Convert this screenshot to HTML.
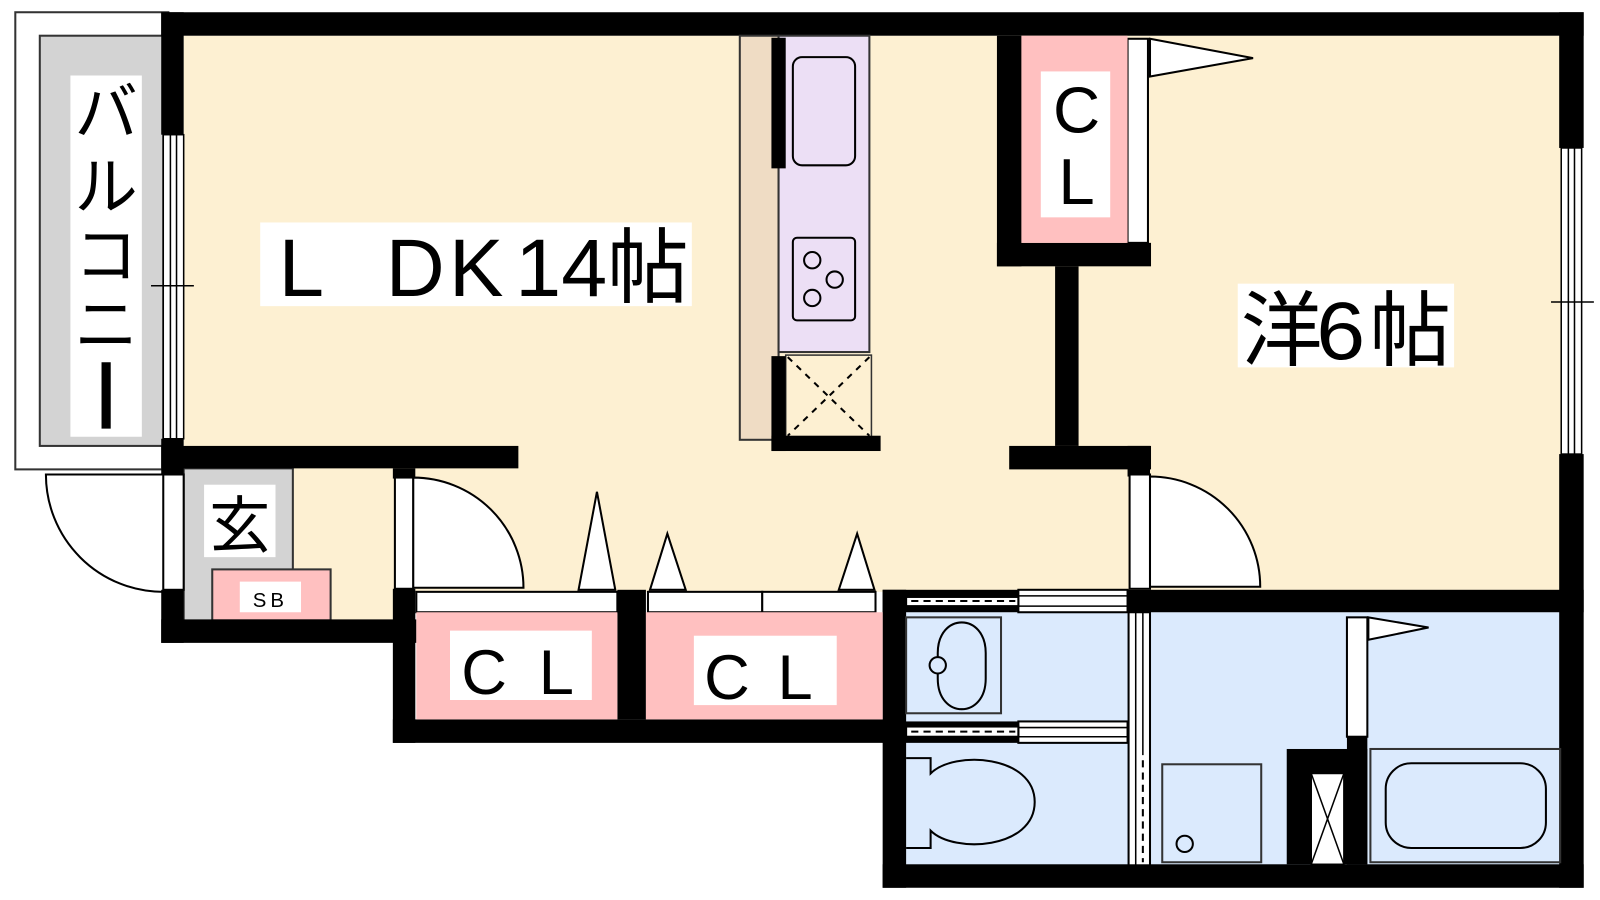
<!DOCTYPE html>
<html><head><meta charset="utf-8"><style>html,body{margin:0;padding:0;background:#fff}svg{display:block}</style></head>
<body>
<svg width="1600" height="900" viewBox="0 0 1568 882" preserveAspectRatio="none" xmlns="http://www.w3.org/2000/svg" font-family="Liberation Sans, Noto Sans CJK JP, sans-serif">
<!-- floors -->
<rect x="180" y="35" width="1350" height="545" fill="#fdf0d2"/>
<rect x="287" y="459" width="100" height="150" fill="#fdf0d2"/>
<rect x="888" y="600" width="642" height="248" fill="#dbeafd"/>
<!-- balcony -->
<rect x="15" y="12" width="150" height="448" fill="#fff" stroke="#333" stroke-width="2"/>
<rect x="39" y="35" width="121" height="402" fill="#d3d3d3" stroke="#333" stroke-width="2"/>
<rect x="69" y="74" width="70" height="354" fill="#fff"/>
<g font-size="62" text-anchor="middle" fill="#000">
<text x="104" y="132">バ</text><text x="104" y="205">ル</text><text x="104" y="272">コ</text><text x="104" y="340">ニ</text>
<line x1="104" y1="355" x2="104" y2="420" stroke="#000" stroke-width="9"/>
</g>
<!-- entrance -->
<rect x="180" y="459" width="107" height="150" fill="#d3d3d3" stroke="#333" stroke-width="2"/>
<rect x="200" y="475" width="70" height="71" fill="#fff"/>
<text x="235" y="536" font-size="60" text-anchor="middle">玄</text>
<rect x="208" y="558" width="116" height="50" fill="#ffc0c0" stroke="#333" stroke-width="2"/>
<rect x="235" y="570" width="60" height="30" fill="#fff"/>
<text x="265" y="595" font-size="20" text-anchor="middle" letter-spacing="4">SB</text>
<!-- entrance door -->
<path d="M160 465 H45 A115 115 0 0 0 160 580" fill="#fff" stroke="#000" stroke-width="2"/>
<!-- walls -->
<g fill="#000">
<rect x="158" y="12" width="1394" height="23"/>
<rect x="158" y="12" width="22" height="120"/>
<rect x="158" y="430" width="22" height="35"/>
<rect x="158" y="578" width="22" height="52"/>
<rect x="158" y="437" width="350" height="22"/>
<rect x="158" y="607" width="250" height="23"/>
<rect x="385" y="459" width="22" height="10"/>
<rect x="385" y="577" width="22" height="151"/>
<rect x="385" y="705" width="502" height="23"/>
<rect x="605" y="578" width="28" height="127"/>
<rect x="865" y="578" width="23" height="292"/>
<rect x="865" y="847" width="687" height="23"/>
<rect x="1528" y="12" width="24" height="133"/>
<rect x="1528" y="445" width="24" height="425"/>
<rect x="1105" y="578" width="447" height="22"/>
<rect x="977" y="35" width="24" height="226"/>
<rect x="977" y="238" width="151" height="23"/>
<rect x="1034" y="261" width="23" height="176"/>
<rect x="989" y="437" width="139" height="23"/>
<rect x="1105" y="437" width="22" height="30"/>
<rect x="865" y="578" width="133" height="22"/>
<rect x="865" y="707" width="133" height="21"/>
<rect x="1261" y="734" width="79" height="113"/>
<rect x="1320" y="722" width="20" height="125"/>
</g>
<!-- windows -->
<g fill="#fff" stroke="#000" stroke-width="1.5">
<rect x="160" y="132" width="20" height="298"/><line x1="167" y1="132" x2="167" y2="430"/><line x1="173" y1="132" x2="173" y2="430"/>
<rect x="1530" y="145" width="20" height="300"/><line x1="1537" y1="145" x2="1537" y2="445"/><line x1="1543" y1="145" x2="1543" y2="445"/>
</g>
<line x1="148" y1="280" x2="190" y2="280" stroke="#000" stroke-width="1.5"/>
<line x1="1520" y1="296" x2="1562" y2="296" stroke="#000" stroke-width="1.5"/>
<!-- door frames & doors -->
<g fill="#fff" stroke="#000" stroke-width="2">
<rect x="160" y="465" width="20" height="113"/>
<rect x="387" y="468" width="18" height="109"/>
<path d="M405 468 A108 108 0 0 1 513 576 H405 Z"/>
<rect x="1107" y="465" width="20" height="112"/>
<path d="M1127 467 A108 108 0 0 1 1235 575 H1127 Z"/>
<rect x="1105" y="38" width="20" height="200"/>
<path d="M1127 38 L1228 57 L1127 75 Z"/>
<!-- closet sliding -->
<rect x="408" y="580" width="197" height="20"/>
<rect x="635" y="580" width="112" height="20"/><rect x="747" y="580" width="111" height="20"/>
<path d="M567 578 L585 482 L603 578 Z"/>
<path d="M637 578 L654 523 L672 578 Z"/>
<path d="M822 578 L840 523 L857 578 Z"/>
<!-- bath sliding -->
<rect x="998" y="578" width="107" height="22"/>
<rect x="998" y="707" width="107" height="21"/>
<rect x="888" y="585" width="110" height="9"/>
<rect x="888" y="712" width="110" height="10"/>
<rect x="1106" y="600" width="21" height="248"/>
<rect x="1320" y="605" width="20" height="117"/>
<path d="M1341 605 L1400 615 L1341 627 Z"/>
</g>
<g stroke="#000" stroke-width="1.5">
<line x1="998" y1="584" x2="1105" y2="584"/><line x1="998" y1="594" x2="1105" y2="594"/>
<line x1="998" y1="713" x2="1105" y2="713"/><line x1="998" y1="722" x2="1105" y2="722"/>
<line x1="1113" y1="600" x2="1113" y2="848"/><line x1="1120" y1="600" x2="1120" y2="740"/>
</g>
<g stroke="#000" stroke-width="2" stroke-dasharray="7 5">
<line x1="893" y1="589" x2="995" y2="589"/><line x1="893" y1="717" x2="995" y2="717"/>
<line x1="1120" y1="745" x2="1120" y2="845"/>
</g>
<!-- closets -->
<rect x="1001" y="35" width="104" height="203" fill="#ffc0c0"/>
<rect x="1020" y="70" width="68" height="143" fill="#fff"/>
<g font-size="64" text-anchor="middle"><text x="1055" y="130">C</text><text x="1055" y="200">L</text></g>
<rect x="408" y="600" width="197" height="105" fill="#ffc0c0"/>
<rect x="441" y="618" width="139" height="68" fill="#fff"/>
<rect x="633" y="600" width="232" height="105" fill="#ffc0c0"/>
<rect x="680" y="623" width="140" height="68" fill="#fff"/>
<g font-size="62"><text x="452" y="680">C</text><text x="528" y="680">L</text><text x="690" y="685">C</text><text x="762" y="685">L</text></g>
<!-- kitchen -->
<rect x="725" y="35" width="38" height="396" fill="#efdcc4" stroke="#333" stroke-width="2"/>
<rect x="763" y="35" width="89" height="310" fill="#ecdff5" stroke="#333" stroke-width="2"/>
<rect x="777" y="56" width="61" height="106" rx="9" fill="none" stroke="#000" stroke-width="2"/>
<rect x="777" y="233" width="61" height="81" rx="4" fill="none" stroke="#000" stroke-width="2"/>
<g fill="none" stroke="#000" stroke-width="2">
<circle cx="796" cy="255" r="8"/><circle cx="818" cy="274" r="8"/><circle cx="796" cy="292" r="8"/>
</g>
<rect x="770" y="348" width="84" height="80" fill="#fdf0d2" stroke="#333" stroke-width="1.5"/>
<g stroke="#000" stroke-width="2" stroke-dasharray="6 6"><line x1="772" y1="350" x2="852" y2="427"/><line x1="852" y1="350" x2="772" y2="427"/></g>
<rect x="756" y="37" width="14" height="128" fill="#000"/>
<rect x="756" y="349" width="14" height="93" fill="#000"/>
<rect x="756" y="427" width="107" height="15" fill="#000"/>
<!-- bathroom fixtures -->
<g fill="none" stroke="#000" stroke-width="2">
<rect x="888" y="605" width="93" height="94" stroke="#333"/>
<path d="M919 640 C919 600 966 600 966 640 V665 C966 705 919 705 919 665 Z"/>
<path d="M888 743 H912 V758 C935 735 1014 740 1014 786 C1014 832 935 837 912 814 V831 H888"/>
<rect x="1139" y="749" width="97" height="96" stroke="#333"/>
<circle cx="1161" cy="827" r="8"/>
<rect x="1343" y="734" width="186" height="111" stroke="#333"/>
<rect x="1358" y="748" width="157" height="83" rx="25"/>
</g>
<circle cx="919" cy="652" r="8" fill="#dbeafd" stroke="#000" stroke-width="2"/>
<rect x="1285" y="758" width="32" height="89" fill="#fff" stroke="#000" stroke-width="1.5"/>
<g stroke="#000" stroke-width="1.5"><line x1="1285" y1="758" x2="1317" y2="847"/><line x1="1317" y1="758" x2="1285" y2="847"/></g>
<!-- room labels -->
<rect x="255" y="218" width="423" height="82" fill="#fff"/>
<g font-size="80"><text x="273" y="290">L</text><text x="378" y="290">D</text><text x="440" y="290">K</text><text x="505" y="290" textLength="90" lengthAdjust="spacingAndGlyphs">14</text><text x="595" y="290">帖</text></g>
<rect x="1213" y="278" width="212" height="82" fill="#fff"/>
<g font-size="80"><text x="1216" y="352">洋</text><text x="1290" y="352" textLength="48" lengthAdjust="spacingAndGlyphs">6</text><text x="1342" y="352">帖</text></g>
</svg>
</body></html>
